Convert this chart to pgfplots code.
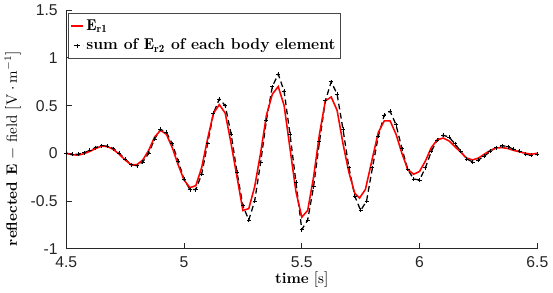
\documentclass[border=0pt]{standalone}
\usepackage{fontspec}
\usepackage{pgfplots}
\pgfplotsset{compat=1.18}
\newfontfamily\arial{Liberation Sans}
\definecolor{axgray}{RGB}{38,38,38}
\begin{document}
\begin{tikzpicture}
\begin{axis}[
  scale only axis,
  width=330pt, height=167pt,
  xmin=4.5, xmax=6.5, ymin=-1, ymax=1.5,
  xtick={4.5,5,5.5,6,6.5}, ytick={-1,-0.5,0,0.5,1,1.5},
  axis lines=left,
  axis line style={-, axgray, line width=0.8pt},
  tick style={axgray, line width=0.6pt},
  tick align=inside,
  major tick length=4pt,
  /pgf/number format/assume math mode=true,
  ticklabel style={font=\arial\fontsize{11pt}{12pt}\selectfont, text=axgray},
  xticklabel style={yshift=-2pt},
  yticklabel style={xshift=-2.5pt},
  xlabel={\textbf{time} $[\mathrm{s}]$},
  ylabel={\textbf{reflected E} $-$ field $[\mathrm{V}\cdot\mathrm{m}^{-1}]$},
  xlabel style={font=\fontsize{10.5pt}{12pt}\selectfont, yshift=4pt},
  ylabel style={font=\fontsize{10.5pt}{12pt}\selectfont, at={(ticklabel cs:0.42)}, yshift=0pt},
  legend style={at={(0.003,0.99)}, anchor=north west, draw=axgray!85, line width=1pt,
    font=\fontsize{11pt}{13pt}\selectfont, row sep=0.5pt, inner xsep=1.5pt, inner ysep=2.5pt,
    nodes={inner sep=2pt}},
  legend cell align=left,
  legend image code/.code={\draw[#1] (0pt,0pt) -- (8pt,0pt);},
]
\addlegendimage{red, line width=1.1pt}
\addlegendentry{$\mathbf{E_{r1}}$}
\addlegendimage{black, line width=0.9pt, dash pattern=on 3pt off 2pt, mark=+, mark options={solid, scale=0.7}, legend image code/.code={\draw[black, line width=0.9pt] (3pt,0pt) -- (8pt,0pt); \draw[black, line width=0.6pt] (4pt,-2pt)--(4pt,2pt) (2pt,0pt)--(6pt,0pt);}}
\addlegendentry{\textbf{sum of $\mathbf{E_{r2}}$ of each body element}}

\addplot[black, line width=0.9pt, dash pattern=on 4pt off 2.5pt, mark=+, mark options={solid, scale=0.7, line width=0.5pt}, forget plot] coordinates {
(4.5,0.0)(4.525,-0.01)(4.55,-0.01)(4.575,0.005)(4.60,0.03)(4.625,0.06)(4.65,0.08)(4.675,0.075)(4.70,0.05)(4.725,0.0)
(4.75,-0.06)(4.775,-0.12)(4.80,-0.13)(4.825,-0.09)(4.85,0.0)(4.875,0.15)(4.90,0.25)(4.925,0.22)(4.95,0.10)(4.975,-0.08)
(5.00,-0.27)(5.025,-0.38)(5.05,-0.38)(5.075,-0.22)(5.10,0.10)(5.125,0.42)(5.15,0.57)(5.175,0.50)(5.20,0.20)(5.225,-0.20)
(5.25,-0.55)(5.275,-0.70)(5.30,-0.50)(5.325,-0.10)(5.35,0.35)(5.375,0.70)(5.40,0.83)(5.425,0.65)(5.45,0.20)(5.475,-0.30)
(5.50,-0.80)(5.525,-0.70)(5.55,-0.35)(5.575,0.12)(5.60,0.55)(5.625,0.75)(5.65,0.62)(5.675,0.25)(5.70,-0.15)(5.725,-0.45)
(5.75,-0.60)(5.775,-0.50)(5.80,-0.15)(5.825,0.18)(5.85,0.40)(5.875,0.44)(5.90,0.30)(5.925,0.05)(5.95,-0.17)(5.975,-0.27)
(6.0,-0.28)(6.025,-0.15)(6.05,0.02)(6.075,0.14)(6.10,0.19)(6.125,0.17)(6.15,0.10)(6.175,0.02)(6.20,-0.06)(6.225,-0.09)
(6.25,-0.07)(6.275,-0.03)(6.30,0.02)(6.325,0.06)(6.35,0.08)(6.375,0.07)(6.40,0.04)(6.425,0.02)(6.45,-0.01)(6.475,-0.02)(6.5,-0.01)
};
\addplot[red, line width=1.1pt, forget plot] coordinates {
(4.5,0.0)(4.525,-0.015)(4.55,-0.02)(4.575,-0.005)(4.60,0.02)(4.625,0.05)(4.65,0.075)(4.675,0.07)(4.70,0.04)(4.725,-0.01)
(4.75,-0.07)(4.775,-0.12)(4.80,-0.12)(4.825,-0.07)(4.85,0.03)(4.875,0.17)(4.90,0.24)(4.925,0.20)(4.95,0.06)(4.975,-0.12)
(5.00,-0.28)(5.025,-0.36)(5.05,-0.34)(5.075,-0.15)(5.10,0.15)(5.125,0.42)(5.15,0.51)(5.175,0.42)(5.20,0.10)(5.225,-0.25)
(5.25,-0.60)(5.275,-0.58)(5.30,-0.35)(5.325,0.0)(5.35,0.40)(5.375,0.62)(5.40,0.70)(5.425,0.50)(5.45,0.05)(5.475,-0.40)
(5.50,-0.67)(5.525,-0.60)(5.55,-0.25)(5.575,0.20)(5.60,0.55)(5.625,0.59)(5.65,0.45)(5.675,0.10)(5.70,-0.20)(5.725,-0.42)
(5.745,-0.47)(5.77,-0.38)(5.80,-0.05)(5.825,0.22)(5.85,0.34)(5.875,0.34)(5.90,0.20)(5.925,0.0)(5.95,-0.17)(5.975,-0.22)
(6.0,-0.19)(6.025,-0.08)(6.05,0.06)(6.075,0.14)(6.10,0.16)(6.125,0.13)(6.15,0.07)(6.175,0.01)(6.20,-0.05)(6.225,-0.07)
(6.25,-0.05)(6.275,-0.01)(6.30,0.03)(6.325,0.055)(6.35,0.06)(6.375,0.05)(6.40,0.03)(6.425,0.015)(6.45,0.0)(6.475,-0.01)(6.5,0.0)
};
\end{axis}
\end{tikzpicture}
\end{document}
